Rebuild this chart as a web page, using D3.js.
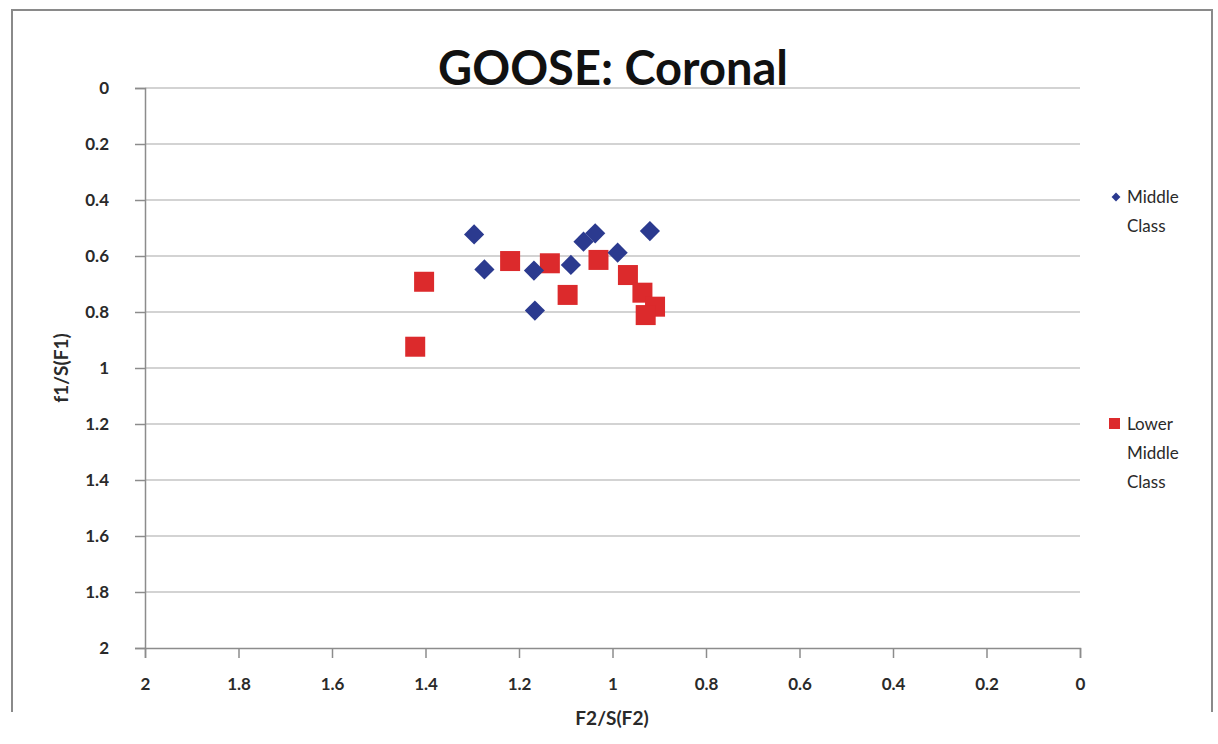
<!DOCTYPE html>
<html>
<head>
<meta charset="utf-8">
<script src="https://cdn.jsdelivr.net/npm/d3@7"></script>
<style>
    body { margin: 0; background: #fff; }
    text { font-family: Lato, "Open Sans", sans-serif; }
</style>
</head>
<body>
<div id="chart"></div>
<script>
    const width = 1218;
    const height = 744;

    // F2/S(F2) and f1/S(F1)
    const middleX = [1.296, 1.274, 1.168, 1.166, 1.089, 1.062, 1.037, 0.989, 0.920];
    const middleY = [0.523, 0.648, 0.652, 0.795, 0.632, 0.549, 0.519, 0.588, 0.511];
    const lowerX = [1.403, 1.422, 1.219, 1.134, 1.096, 1.030, 0.967, 0.936, 0.909, 0.929];
    const lowerY = [0.692, 0.924, 0.618, 0.626, 0.739, 0.614, 0.668, 0.731, 0.781, 0.811];
    const ticks = [0, 0.2, 0.4, 0.6, 0.8, 1, 1.2, 1.4, 1.6, 1.8, 2];

    const blue = "#2b3a8f";
    const red = "#dc2a2c";
    const textColor = "#2a2a2a";

    let svg = d3.select("#chart").append("svg")
        .attr("width", width)
        .attr("height", height);

    // outer frame of the chart
    svg.append("path")
        .attr("d", "M12,712 L12,10 L1212,10 L1212,712")
        .attr("fill", "none")
        .attr("stroke", "#8a8a8a")
        .attr("stroke-width", 2);

    let x = d3.scaleLinear().domain([2, 0]).range([145, 1080]);
    let y = d3.scaleLinear().domain([0, 2]).range([88, 648]);

    // gridlines
    svg.append("g")
        .selectAll("line")
        .data(ticks.filter(t => t < 2))
        .join("line")
        .attr("x1", x(2))
        .attr("x2", x(0))
        .attr("y1", d => y(d))
        .attr("y2", d => y(d))
        .attr("stroke", "#c4c4c4")
        .attr("stroke-width", 1.5);

    let yAxis = svg.append("g")
        .attr("transform", `translate(${x(2)},0)`)
        .call(d3.axisLeft(y).tickValues(ticks).tickSize(10).tickPadding(26)
            .tickFormat(d3.format("~g")));

    let xAxis = svg.append("g")
        .attr("transform", `translate(0,${y(2)})`)
        .call(d3.axisBottom(x).tickValues(ticks).tickSize(10).tickPadding(20)
            .tickFormat(d3.format("~g")));

    [xAxis, yAxis].forEach(a => {
        a.select(".domain").attr("stroke", "#8c8c8c").attr("stroke-width", 1.5);
        a.selectAll(".tick line").attr("stroke", "#8c8c8c").attr("stroke-width", 1.5);
        a.selectAll(".tick text")
            .attr("fill", textColor)
            .style("font-size", "17px")
            .style("font-weight", "bold")
            .style("font-family", "Lato, sans-serif");
    });

    // title
    svg.append("text")
        .attr("x", 613)
        .attr("y", 85)
        .attr("text-anchor", "middle")
        .attr("fill", "#111")
        .style("font-size", "47px")
        .style("font-weight", "bold")
        .text("GOOSE: Coronal");

    // axis titles
    svg.append("text")
        .attr("x", 612)
        .attr("y", 725)
        .attr("text-anchor", "middle")
        .attr("fill", textColor)
        .style("font-size", "19px")
        .style("font-weight", "bold")
        .text("F2/S(F2)");

    svg.append("text")
        .attr("transform", "translate(68,368) rotate(-90)")
        .attr("text-anchor", "middle")
        .attr("fill", textColor)
        .style("font-size", "19px")
        .style("font-weight", "bold")
        .text("f1/S(F1)");

    // series
    let lowerData = lowerX.map((v, i) => ({ x: v, y: lowerY[i] }));
    let middleData = middleX.map((v, i) => ({ x: v, y: middleY[i] }));

    svg.append("g")
        .selectAll("rect")
        .data(lowerData)
        .join("rect")
        .attr("x", d => x(d.x) - 10)
        .attr("y", d => y(d.y) - 10)
        .attr("width", 20)
        .attr("height", 20)
        .attr("fill", red);

    let diamond = d3.symbol().type(d3.symbolDiamond2).size(260);
    svg.append("g")
        .selectAll("path")
        .data(middleData)
        .join("path")
        .attr("d", diamond)
        .attr("transform", d => `translate(${x(d.x)},${y(d.y)})`)
        .attr("fill", blue);

    // legend
    let legend = svg.append("g");
    legend.append("path")
        .attr("d", d3.symbol().type(d3.symbolDiamond2).size(50))
        .attr("transform", "translate(1116,197)")
        .attr("fill", blue);
    legend.append("rect")
        .attr("x", 1109)
        .attr("y", 418)
        .attr("width", 11)
        .attr("height", 11)
        .attr("fill", red);

    const legendLines = [
        { text: "Middle", y: 203 },
        { text: "Class", y: 232 },
        { text: "Lower", y: 430 },
        { text: "Middle", y: 459 },
        { text: "Class", y: 488 }
    ];
    legend.selectAll("text")
        .data(legendLines)
        .join("text")
        .attr("x", 1127)
        .attr("y", d => d.y)
        .attr("fill", textColor)
        .style("font-size", "17px")
        .text(d => d.text);
</script>
</body>
</html>
